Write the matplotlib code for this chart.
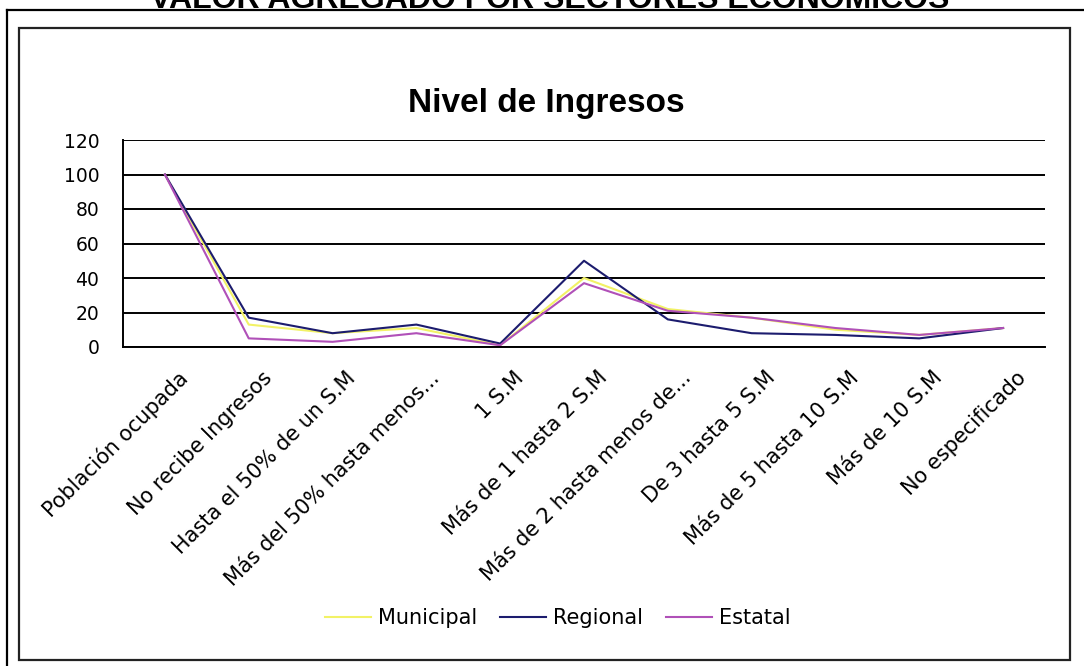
import matplotlib
matplotlib.use('Agg')
import matplotlib.pyplot as plt
from matplotlib.patches import Rectangle
from matplotlib.lines import Line2D
from matplotlib.transforms import ScaledTranslation

categorias = ['Población ocupada', 'No recibe Ingresos', 'Hasta el 50% de un S.M',
              'Más del 50% hasta menos...', '1 S.M', 'Más de 1 hasta 2 S.M',
              'Más de 2 hasta menos de...', 'De 3 hasta 5 S.M', 'Más de 5 hasta 10 S.M',
              'Más de 10 S.M', 'No especificado']
municipal = [100, 13, 8, 11, 1, 40, 22, 17, 10, 7, 11]
regional = [100, 17, 8, 13, 2, 50, 16, 8, 7, 5, 11]
estatal = [100, 5, 3, 8, 1, 37, 21, 17, 11, 7, 11]
yticks = [0, 20, 40, 60, 80, 100, 120]

W, H = 1084, 666
fig = plt.figure(figsize=(W / 100, H / 100), dpi=100)
fig.patch.set_facecolor('white')

# marcos
fig.add_artist(Rectangle((19 / W, 1 - 660 / H), (1070 - 19) / W, (660 - 28) / H,
                         fill=False, edgecolor='#222222', linewidth=1.6))
fig.add_artist(Line2D([7 / W, 1], [1 - 10 / H, 1 - 10 / H], color='black', linewidth=1.6))
fig.add_artist(Line2D([7 / W, 7 / W], [0, 1 - 10 / H], color='black', linewidth=1.6))

# titulo de la pagina, cortado arriba como en el original
fig.text(550 / W, 1 - 8 / H, 'VALOR AGREGADO POR SECTORES ECONOMICOS', ha='center',
         va='baseline', fontsize=23, fontweight='bold', family='Liberation Sans')
fig.text(546 / W, 1 - 112 / H, 'Nivel de Ingresos', ha='center', va='baseline',
         fontsize=24, fontweight='bold', family='Liberation Sans')

ax = fig.add_axes([123 / W, 1 - 347 / H, (1045 - 123) / W, (347 - 140) / H])
x = list(range(len(categorias)))
ax.plot(x, municipal, color='#f2f266', linewidth=1.5, label='Municipal')
ax.plot(x, regional, color='#1c1c6e', linewidth=1.5, label='Regional')
ax.plot(x, estatal, color='#b050b8', linewidth=1.5, label='Estatal')

ax.set_xlim(-0.5, len(categorias) - 0.5)
ax.set_ylim(0, 120)
ax.set_yticks(yticks)
ax.yaxis.grid(True, color='black', linewidth=1.4)
ax.set_axisbelow(True)
for s in ['top', 'right']:
    ax.spines[s].set_visible(False)
ax.spines['left'].set_linewidth(1.4)
ax.spines['bottom'].set_linewidth(1.4)
ax.tick_params(axis='y', length=0, pad=17, labelsize=13.5)
ax.tick_params(axis='x', length=0, pad=20)
ax.set_xticks(x)
ax.set_xticklabels(categorias, rotation=45, ha='right', va='center',
                   rotation_mode='anchor', fontsize=15)
for lab in ax.get_xticklabels():
    lab.set_transform(lab.get_transform() + ScaledTranslation(0.2, 0, fig.dpi_scale_trans))

fig.legend(loc='center', bbox_to_anchor=(558 / W, 1 - 618 / H), ncol=3, frameon=False,
           fontsize=15, handlelength=2.2, handletextpad=0.35, columnspacing=1.1)

plt.savefig('out.png', dpi=100)
